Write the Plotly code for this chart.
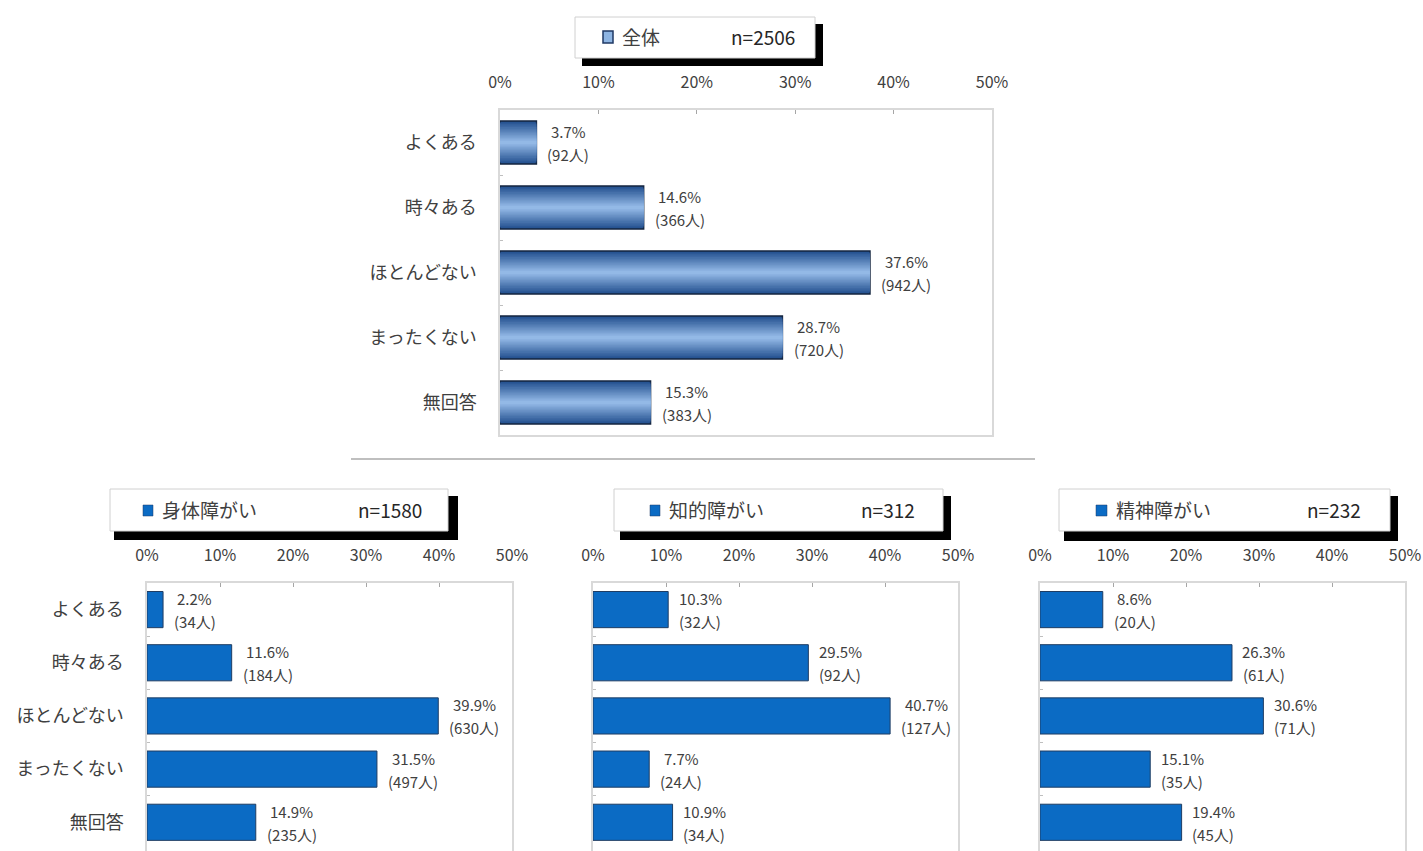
import plotly.graph_objects as go

# ---------------- data ----------------
categories = ["よくある", "時々ある", "ほとんどない", "まったくない", "無回答"]
groups = ["全体", "身体障がい", "知的障がい", "精神障がい"]
group_n = [2506, 1580, 312, 232]
pct_all = [3.7, 14.6, 37.6, 28.7, 15.3]
cnt_all = [92, 366, 942, 720, 383]
pct_body = [2.2, 11.6, 39.9, 31.5, 14.9]
cnt_body = [34, 184, 630, 497, 235]
pct_intel = [10.3, 29.5, 40.7, 7.7, 10.9]
cnt_intel = [32, 92, 127, 24, 34]
pct_mental = [8.6, 26.3, 30.6, 15.1, 19.4]
cnt_mental = [20, 61, 71, 35, 45]
tick_vals = [0, 10, 20, 30, 40, 50]
tick_text = ["0%", "10%", "20%", "30%", "40%", "50%"]

pcts = [pct_all, pct_body, pct_intel, pct_mental]
cnts = [cnt_all, cnt_body, cnt_intel, cnt_mental]

# ---------------- styling ----------------
W, H = 1423, 851
FONT = "Noto Sans CJK JP"


def px(x):
    return x / W


def py(y):
    return 1 - y / H


# plot-area pixel boxes (left, top, right, bottom)
areas = [(500, 110, 992, 435), (147, 583, 512, 851), (593, 583, 958, 851), (1040, 583, 1405, 851)]
# legend boxes: box, shadow, icon, name x, n right x
legends = [
    dict(box=(575, 17, 815, 58), shadow=(582, 24, 823, 66), icon=(603, 31, 613, 43), name_x=620, n_x=797),
    dict(box=(110, 489, 448, 531), shadow=(114, 496, 458, 540), icon=(143, 505, 153, 516), name_x=160, n_x=424),
    dict(box=(614, 489, 943, 531), shadow=(620, 496, 951, 540), icon=(650, 505, 660, 516), name_x=667, n_x=917),
    dict(box=(1059, 489, 1390, 531), shadow=(1064, 496, 1398, 541), icon=(1096, 505, 1107, 516), name_x=1114, n_x=1363),
]

solid_fill = "#0B6BC4"
solid_line = "#1F3D63"


def lerp_hex(c1, c2, t):
    a = [int(c1[k:k + 2], 16) for k in (1, 3, 5)]
    b = [int(c2[k:k + 2], 16) for k in (1, 3, 5)]
    return "#" + "".join(f"{round(a[j] + (b[j] - a[j]) * t):02X}" for j in range(3))


N_LAYERS = 14
grad_colors = [lerp_hex("#23508F", "#93B9E6", k / (N_LAYERS - 1)) for k in range(N_LAYERS)]
grad_scale = [1.0 - 0.92 * k / (N_LAYERS - 1) for k in range(N_LAYERS)]

fig = go.Figure()

layout = dict(
    width=W, height=H,
    margin=dict(l=0, r=0, t=0, b=0, autoexpand=False),
    paper_bgcolor="white", plot_bgcolor="white",
    showlegend=False, barmode="overlay",
    font=dict(family=FONT, color="#404040"),
    shapes=[], annotations=[],
)

for i in range(4):
    sfx = "" if i == 0 else str(i + 1)
    xa, ya = "x" + sfx, "y" + sfx
    l, t, r, b = areas[i]
    bw = 0.66 if i == 0 else 0.68
    if i == 0:
        for k, (c, s) in enumerate(zip(grad_colors, grad_scale)):
            fig.add_trace(go.Bar(
                x=pcts[i], y=categories, orientation="h", width=bw * s,
                marker=dict(color=c, line=dict(color="#14253F" if k == 0 else c, width=1.5 if k == 0 else 0)),
                xaxis=xa, yaxis=ya, hoverinfo="skip"))
    else:
        fig.add_trace(go.Bar(
            x=pcts[i], y=categories, orientation="h", width=bw,
            marker=dict(color=solid_fill, line=dict(color=solid_line, width=1)),
            xaxis=xa, yaxis=ya, hoverinfo="skip"))

    layout["xaxis" + sfx] = dict(
        domain=[px(l), px(r)], anchor=ya, range=[0, 50], side="top",
        tickvals=tick_vals, ticktext=tick_text, ticks="inside", ticklen=4,
        tickcolor="#A6A6A6", showline=True, linecolor="#D9D9D9", linewidth=1.5,
        mirror=True, showgrid=False, zeroline=False, automargin=False,
        tickfont=dict(size=16, color="#404040", family=FONT), ticklabelstandoff=14,
        fixedrange=True)
    yd = dict(
        domain=[py(b), py(t)], anchor=xa, type="category",
        categoryorder="array", categoryarray=categories,
        ticks="inside", ticklen=3, tickcolor="#BFBFBF", tickson="boundaries",
        showline=True, linecolor="#D9D9D9", linewidth=1.5, mirror=True,
        showgrid=False, zeroline=False, automargin=False,
        showticklabels=(i <= 1),
        tickfont=dict(size=18, color="#404040", family=FONT), ticklabelstandoff=18,
        fixedrange=True)
    if i == 0:
        yd["autorange"] = "reversed"
    else:
        yd["range"] = [4.54, -0.5]
    layout["yaxis" + sfx] = yd

    # value labels
    fs = 15
    for cat, p, n in zip(categories, pcts[i], cnts[i]):
        cstr = f"({n}人)"
        est_w = fs * (0.62 + 0.58 * len(str(n)) + 1.0)
        xs = 11 + est_w / 2
        layout["annotations"].append(dict(
            x=p, y=cat, xref=xa, yref=ya, text=f"{p}%", showarrow=False,
            xanchor="center", yanchor="middle", xshift=xs, yshift=11,
            font=dict(size=fs, color="#404040", family=FONT)))
        layout["annotations"].append(dict(
            x=p, y=cat, xref=xa, yref=ya, text=cstr, showarrow=False,
            xanchor="center", yanchor="middle", xshift=xs, yshift=-12,
            font=dict(size=fs, color="#404040", family=FONT)))

    # legend box
    lg = legends[i]
    sx0, sy0, sx1, sy1 = lg["shadow"]
    layout["shapes"].append(dict(type="rect", xref="paper", yref="paper",
                                 x0=px(sx0), x1=px(sx1), y0=py(sy1), y1=py(sy0),
                                 fillcolor="black", line=dict(width=0)))
    bx0, by0, bx1, by1 = lg["box"]
    layout["shapes"].append(dict(type="rect", xref="paper", yref="paper",
                                 x0=px(bx0), x1=px(bx1), y0=py(by1), y1=py(by0),
                                 fillcolor="white", line=dict(color="#D0D0D0", width=1)))
    ix0, iy0, ix1, iy1 = lg["icon"]
    layout["shapes"].append(dict(type="rect", xref="paper", yref="paper",
                                 x0=px(ix0), x1=px(ix1), y0=py(iy1), y1=py(iy0),
                                 fillcolor="#8DB4E2" if i == 0 else solid_fill,
                                 line=dict(color="#1F3864", width=1.5 if i == 0 else 0.5)))
    cy = (by0 + by1) / 2 - 1
    layout["annotations"].append(dict(
        x=px(lg["name_x"]), y=py(cy), xref="paper", yref="paper", text=groups[i],
        showarrow=False, xanchor="left", yanchor="middle",
        font=dict(size=19, color="#404040", family=FONT)))
    layout["annotations"].append(dict(
        x=px(lg["n_x"]), y=py(cy), xref="paper", yref="paper", text=f"n={group_n[i]}",
        showarrow=False, xanchor="right", yanchor="middle",
        font=dict(size=19, color="#262626", family=FONT)))

# separator line
layout["shapes"].append(dict(type="line", xref="paper", yref="paper",
                             x0=px(351), x1=px(1035), y0=py(459), y1=py(459),
                             line=dict(color="#BFBFBF", width=2)))

fig.update_layout(**layout)
fig.write_html("out.html")
